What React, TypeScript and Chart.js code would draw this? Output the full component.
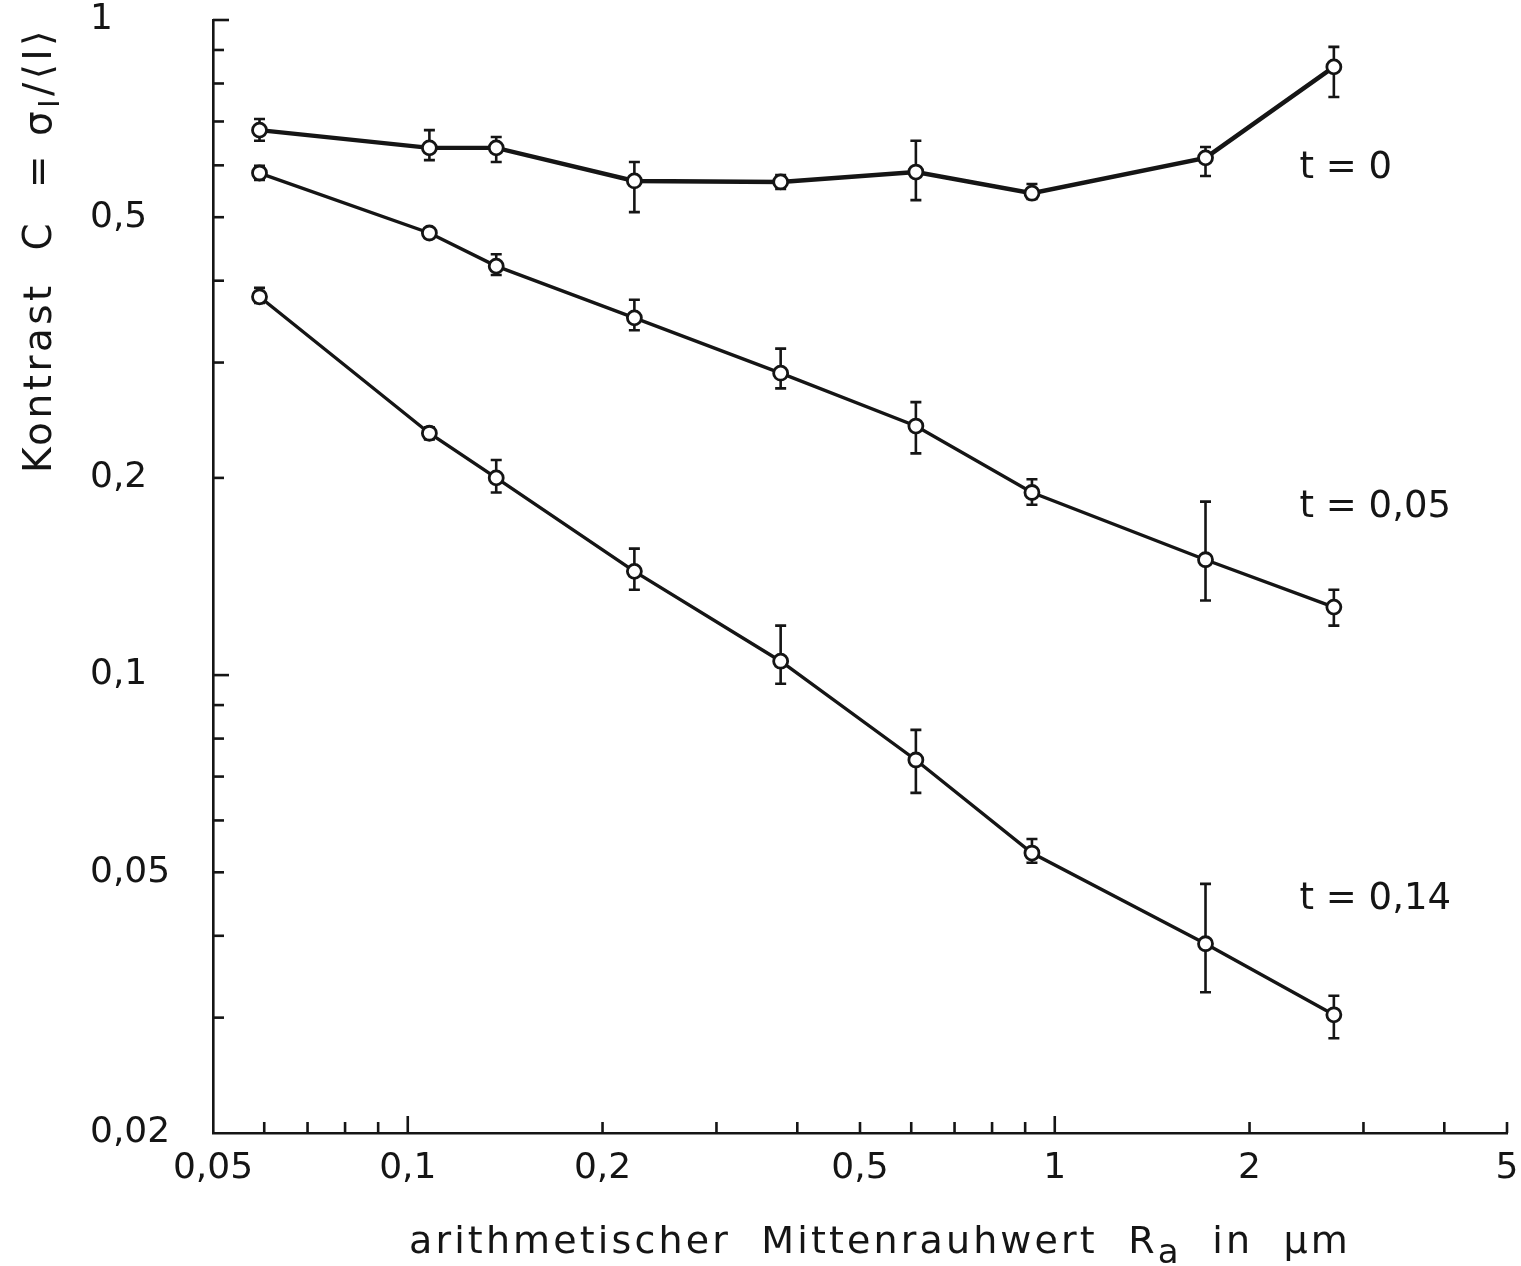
import React, { useEffect, useRef } from "react";
import { Chart, registerables } from "chart.js";

Chart.register(...registerables);

const INK = "#151515";
const FONT = "'DejaVu Sans', 'Liberation Sans', sans-serif";

// Arithmetic mean roughness R_a in µm (shared by all three series)
const roughness = [0.059, 0.108, 0.137, 0.224, 0.377, 0.61, 0.922, 1.71, 2.7];

// Contrast C, t = 0
const contrastT0 = [0.679, 0.638, 0.638, 0.568, 0.566, 0.586, 0.544, 0.616, 0.848];
const contrastT0Low = [0.654, 0.611, 0.607, 0.509, 0.552, 0.531, 0.533, 0.578, 0.763];
const contrastT0High = [0.706, 0.679, 0.663, 0.607, 0.58, 0.654, 0.562, 0.64, 0.91];

// Contrast C, t = 0,05
const contrastT005 = [0.584, 0.473, 0.421, 0.351, 0.289, 0.24, 0.19, 0.15, 0.127];
const contrastT005Low = [0.57, 0.465, 0.408, 0.336, 0.274, 0.218, 0.182, 0.13, 0.119];
const contrastT005High = [0.599, 0.481, 0.439, 0.374, 0.315, 0.261, 0.199, 0.184, 0.135];

// Contrast C, t = 0,14
const contrastT014 = [0.378, 0.234, 0.2, 0.144, 0.105, 0.0742, 0.0535, 0.0389, 0.0303];
const contrastT014Low = [0.37, 0.229, 0.19, 0.135, 0.097, 0.0661, 0.0517, 0.0328, 0.0279];
const contrastT014High = [0.39, 0.239, 0.213, 0.156, 0.119, 0.0825, 0.0562, 0.048, 0.0324];

// Series labels (text and anchor in data units)
const seriesNames = ["t = 0", "t = 0,05", "t = 0,14"];
const seriesLabelX = [2.39, 2.39, 2.39];
const seriesLabelY = [0.594, 0.18, 0.0454];

// Axis ticks
const xTickValues = [0.05, 0.06, 0.07, 0.08, 0.09, 0.1, 0.2, 0.3, 0.4, 0.5, 0.6, 0.7, 0.8, 0.9, 1, 2, 3, 4, 5];
const xMajorTicks = [0.1, 1];
const xLabelValues = [0.05, 0.1, 0.2, 0.5, 1, 2, 5];
const xLabelTexts = ["0,05", "0,1", "0,2", "0,5", "1", "2", "5"];

const yTickValues = [0.02, 0.03, 0.04, 0.05, 0.06, 0.07, 0.08, 0.09, 0.1, 0.2, 0.3, 0.4, 0.5, 0.6, 0.7, 0.8, 0.9, 1];
const yMajorTicks = [0.1, 1];
const yLabelValues = [0.02, 0.05, 0.1, 0.2, 0.5, 1];
const yLabelTexts = ["0,02", "0,05", "0,1", "0,2", "0,5", "1"];

// Axis titles (segments, subscript flagged)
const xTitleSegments = [
  { text: "arithmetischer  Mittenrauhwert  R", sub: false },
  { text: "a", sub: true },
  { text: "  in  µm", sub: false },
];
const yTitleSegments = [
  { text: "Kontrast  C  = σ", sub: false },
  { text: "I", sub: true },
  { text: "/⟨I⟩", sub: false },
];

const seriesValues = [contrastT0, contrastT005, contrastT014];
const seriesLow = [contrastT0Low, contrastT005Low, contrastT014Low];
const seriesHigh = [contrastT0High, contrastT005High, contrastT014High];
const seriesLineWidths = [4.4, 3.4, 3.4];

type Seg = { text: string; sub: boolean };

function drawSegments(
  ctx: CanvasRenderingContext2D,
  segs: Seg[],
  size: number,
  subSize: number,
  subShift: number,
  targetWidth: number
) {
  const fontMain = `${size}px ${FONT}`;
  const fontSub = `${subSize}px ${FONT}`;
  (ctx as any).letterSpacing = "0px";
  let natural = 0;
  let count = 0;
  const widths: number[] = [];
  segs.forEach((s) => {
    ctx.font = s.sub ? fontSub : fontMain;
    const w = ctx.measureText(s.text).width;
    widths.push(w);
    natural += w;
    count += Array.from(s.text).length;
  });
  const spacing = (targetWidth - natural) / count;
  (ctx as any).letterSpacing = `${spacing}px`;
  let cx = 0;
  segs.forEach((s, i) => {
    ctx.font = s.sub ? fontSub : fontMain;
    ctx.fillText(s.text, cx, s.sub ? subShift : 0);
    cx += widths[i] + spacing * Array.from(s.text).length;
  });
  (ctx as any).letterSpacing = "0px";
}

const errorBarPlugin = {
  id: "errorBars",
  beforeDatasetsDraw(chart: any) {
    const { ctx, scales } = chart;
    const x = scales.x;
    const y = scales.y;
    ctx.save();
    ctx.strokeStyle = INK;
    ctx.lineWidth = 2.6;
    chart.data.datasets.forEach((ds: any, di: number) => {
      ds.data.forEach((pt: any, i: number) => {
        const px = x.getPixelForValue(pt.x);
        const lo = y.getPixelForValue(seriesLow[di][i]);
        const hi = y.getPixelForValue(seriesHigh[di][i]);
        ctx.beginPath();
        ctx.moveTo(px, lo);
        ctx.lineTo(px, hi);
        ctx.moveTo(px - 5.5, lo);
        ctx.lineTo(px + 5.5, lo);
        ctx.moveTo(px - 5.5, hi);
        ctx.lineTo(px + 5.5, hi);
        ctx.stroke();
      });
    });
    ctx.restore();
  },
};

const decorPlugin = {
  id: "decor",
  afterDraw(chart: any) {
    const { ctx, scales, chartArea } = chart;
    const x = scales.x;
    const y = scales.y;
    ctx.save();
    ctx.strokeStyle = INK;
    ctx.lineWidth = 2.6;
    // inward tick marks
    xTickValues.forEach((v) => {
      if (v === xTickValues[0]) return;
      const px = x.getPixelForValue(v);
      const len = xMajorTicks.includes(v) ? 17 : 11;
      ctx.beginPath();
      ctx.moveTo(px, chartArea.bottom);
      ctx.lineTo(px, chartArea.bottom - len);
      ctx.stroke();
    });
    yTickValues.forEach((v) => {
      if (v === yTickValues[0]) return;
      const py = y.getPixelForValue(v);
      const len = yMajorTicks.includes(v) ? 16 : 11;
      ctx.beginPath();
      ctx.moveTo(chartArea.left, py);
      ctx.lineTo(chartArea.left + len, py);
      ctx.stroke();
    });

    ctx.fillStyle = INK;
    // series labels
    ctx.font = `37px ${FONT}`;
    ctx.textAlign = "left";
    ctx.textBaseline = "middle";
    seriesNames.forEach((name, i) => {
      ctx.fillText(name, x.getPixelForValue(seriesLabelX[i]), y.getPixelForValue(seriesLabelY[i]));
    });

    // x title
    ctx.textBaseline = "alphabetic";
    ctx.save();
    ctx.translate(409, 1253);
    drawSegments(ctx, xTitleSegments, 38, 34, 10, 942);
    ctx.restore();

    // y title
    ctx.save();
    ctx.translate(51, 473);
    ctx.rotate(-Math.PI / 2);
    drawSegments(ctx, yTitleSegments, 39, 28, 8, 446);
    ctx.restore();

    ctx.restore();
  },
};

export default function App() {
  const canvasRef = useRef<HTMLCanvasElement | null>(null);

  useEffect(() => {
    const canvas = canvasRef.current;
    if (!canvas) return;
    const chart = new Chart(canvas, {
      type: "line",
      data: {
        datasets: seriesValues.map((vals, di) => ({
          label: seriesNames[di],
          data: roughness.map((r, i) => ({ x: r, y: vals[i] })),
          borderColor: INK,
          borderWidth: seriesLineWidths[di],
          pointRadius: 7,
          pointBorderWidth: 2.8,
          pointBackgroundColor: "#ffffff",
          pointBorderColor: INK,
          pointStyle: "circle",
          tension: 0,
          fill: false,
        })),
      },
      options: {
        responsive: false,
        animation: false,
        devicePixelRatio: 1,
        layout: { padding: { left: 90, top: 20, right: 14, bottom: 0 } },
        plugins: {
          legend: { display: false },
          tooltip: { enabled: false },
        },
        scales: {
          x: {
            type: "logarithmic",
            position: "bottom",
            min: 0.05,
            max: 5,
            afterBuildTicks: (scale: any) => {
              scale.ticks = xTickValues.map((v) => ({ value: v }));
            },
            afterFit: (scale: any) => {
              scale.height = 133;
              scale.paddingLeft = 0;
              scale.paddingRight = 0;
            },
            grid: { display: false, drawTicks: false, tickLength: 0 },
            border: { display: true, color: INK, width: 2.6 },
            ticks: {
              autoSkip: false,
              maxRotation: 0,
              minRotation: 0,
              padding: 14,
              color: INK,
              font: { family: FONT, size: 36 },
              callback: (value: any) => {
                const i = xLabelValues.indexOf(Number(value));
                return i >= 0 ? xLabelTexts[i] : "";
              },
            },
          },
          y: {
            type: "logarithmic",
            position: "left",
            min: 0.02,
            max: 1,
            afterBuildTicks: (scale: any) => {
              scale.ticks = yTickValues.map((v) => ({ value: v }));
            },
            afterFit: (scale: any) => {
              scale.width = 123;
              scale.paddingTop = 0;
              scale.paddingBottom = 0;
            },
            grid: { display: false, drawTicks: false, tickLength: 0 },
            border: { display: true, color: INK, width: 2.6 },
            ticks: {
              autoSkip: false,
              crossAlign: "far",
              padding: 10,
              color: INK,
              font: { family: FONT, size: 36 },
              callback: (value: any) => {
                const i = yLabelValues.indexOf(Number(value));
                return i >= 0 ? yLabelTexts[i] : "";
              },
            },
          },
        },
      } as any,
      plugins: [errorBarPlugin, decorPlugin],
    });
    return () => chart.destroy();
  }, []);

  return (
    <div style={{ position: "fixed", left: 0, top: 0, width: 1521, height: 1266, background: "#ffffff" }}>
      <canvas ref={canvasRef} width={1521} height={1266} style={{ display: "block" }} />
    </div>
  );
}
